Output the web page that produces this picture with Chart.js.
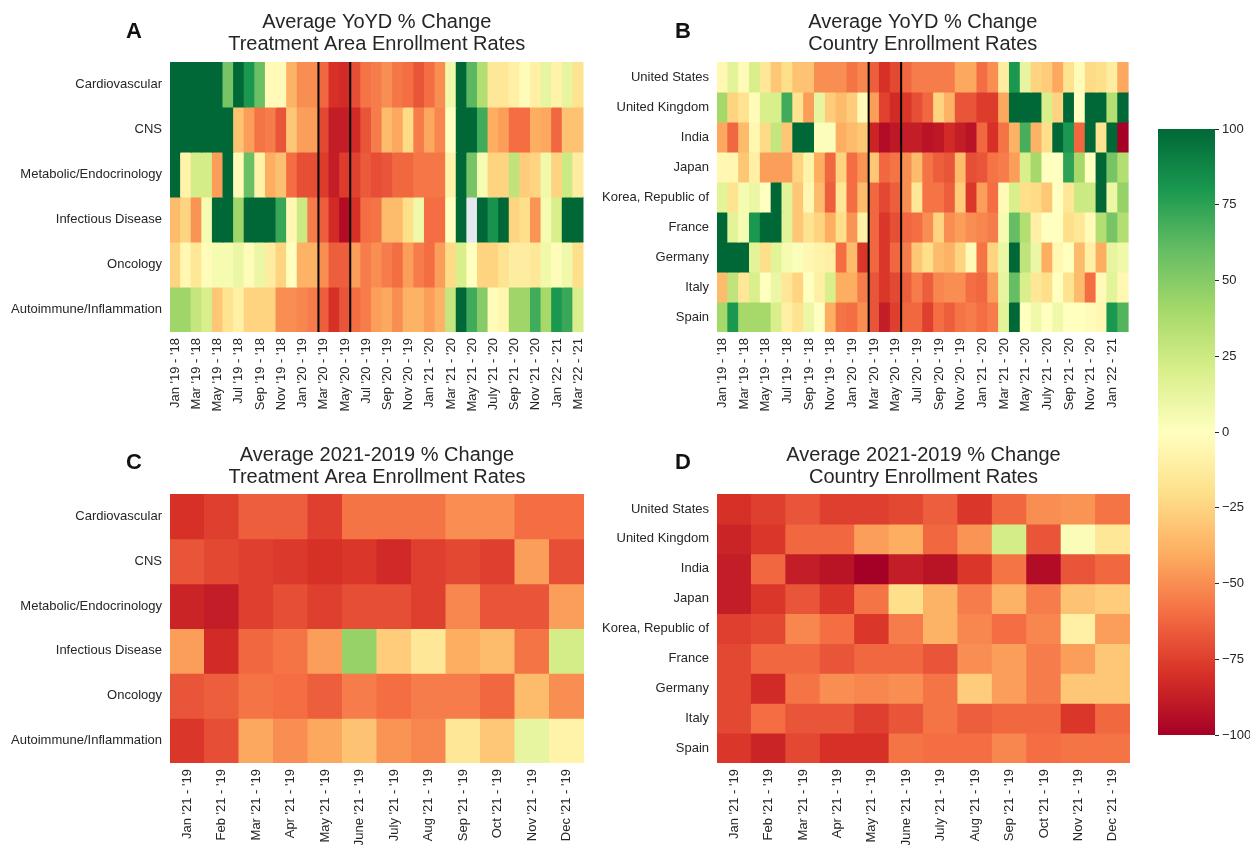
<!DOCTYPE html>
<html>
<head>
<meta charset="utf-8">
<script src="https://cdn.jsdelivr.net/npm/chart.js@4/dist/chart.umd.min.js"></script>
<style>
  html, body { margin: 0; padding: 0; background: #ffffff; }
  #wrap { position: relative; width: 1250px; height: 845px; overflow: hidden; background: #fff; }
  canvas { position: absolute; }
  .letter { position: absolute; font-family: "Liberation Sans", Arial, sans-serif; font-weight: bold; font-size: 22px; line-height: 22px; color: #111; }
</style>
</head>
<body>
<div id="wrap">
  <canvas id="cA" width="600" height="430" style="left:0px;top:0px"></canvas>
  <canvas id="cB" width="545" height="430" style="left:600px;top:0px"></canvas>
  <canvas id="cC" width="600" height="415" style="left:0px;top:430px"></canvas>
  <canvas id="cD" width="545" height="415" style="left:600px;top:430px"></canvas>
  <canvas id="cBar" width="105" height="660" style="left:1145px;top:100px"></canvas>
  <div class="letter" style="left:126px;top:20px">A</div>
  <div class="letter" style="left:675px;top:20px">B</div>
  <div class="letter" style="left:126px;top:451px">C</div>
  <div class="letter" style="left:675px;top:451px">D</div>
</div>
<script>
// ---------------- DATA ----------------
const treatmentAreas = ["Cardiovascular", "CNS", "Metabolic/Endocrinology", "Infectious Disease", "Oncology", "Autoimmune/Inflammation"];
const countries = ["United States", "United Kingdom", "India", "Japan", "Korea, Republic of", "France", "Germany", "Italy", "Spain"];

const monthsYoY = [
  "Jan '19 - '18","Feb '19 - '18","Mar '19 - '18","Apr '19 - '18","May '19 - '18","Jun '19 - '18","Jul '19 - '18","Aug '19 - '18","Sep '19 - '18","Oct '19 - '18","Nov '19 - '18","Dec '19 - '18",
  "Jan '20 - '19","Feb '20 - '19","Mar '20 - '19","Apr '20 - '19","May '20 - '19","Jun '20 - '19","Jul '20 - '19","Aug '20 - '19","Sep '20 - '19","Oct '20 - '19","Nov '20 - '19","Dec '20 - '19",
  "Jan '21 - '20","Feb '21 - '20","Mar '21 - '20","Apr '21 - '20","May '21 - '20","Jun '21 - '20","July '21 - '20","Aug '21 - '20","Sep '21 - '20","Oct '21 - '20","Nov '21 - '20","Dec '21 - '20",
  "Jan '22 - '21","Feb '22 - '21","Mar '22 - '21"
];
const monthsYoYCountry = monthsYoY.slice(0, 38);
const months2021vs2019 = ["Jan '21 - '19","Feb '21 - '19","Mar '21 - '19","Apr '21 - '19","May '21 - '19","June '21 - '19","July '21 - '19","Aug '21 - '19","Sep '21 - '19","Oct '21 - '19","Nov '21 - '19","Dec '21 - '19"];

// Panel A: YoYD % change by treatment area (null = no data)
const cardiovascularYoY = [100,100,100,100,100,55,100,80,58,-3,-3,-38,-50,-50,-62,-80,-82,-70,-58,-55,-50,-57,-60,-68,-60,-50,8,100,63,35,-15,-15,-10,-2,-10,12,-8,12,-18];
const cnsYoY            = [100,100,100,100,100,100,-32,-45,-58,-55,-68,-30,-45,-45,-72,-88,-88,-82,-68,-55,-35,-42,-22,-55,-42,-52,0,100,100,70,-40,-45,-60,-60,-40,-42,-62,-32,-32];
const metabolicYoY      = [100,-8,22,22,-45,100,-3,58,-8,-40,-33,-60,-70,-70,-76,-88,-76,-74,-66,-70,-68,-62,-62,-57,-57,-57,-8,100,55,5,-25,-25,30,-28,-25,8,-25,25,-12];
const infectiousYoY     = [-35,-25,-48,5,100,100,42,100,100,100,72,-5,25,-55,-65,-82,-95,-80,-60,-58,-35,-35,-20,8,-60,-60,0,100,null,100,82,100,-25,-20,-48,5,20,100,100];
const oncologyYoY       = [-25,-5,-15,-2,5,5,10,-2,10,-12,-25,0,-38,-38,-50,-65,-65,-45,-55,-50,-55,-60,-45,-55,-60,-45,-22,20,0,-25,-25,-18,-12,-12,-15,8,-2,8,-20];
const autoimmuneYoY     = [42,42,28,20,-30,-18,-10,-25,-25,-25,-50,-50,-52,-55,-65,-80,-68,-60,-55,-45,-42,-50,-38,-38,-45,-38,28,100,70,50,-2,-6,42,42,70,40,80,72,20];

// Panel B: YoYD % change by country
const usYoY      = [-5,15,-3,20,-15,-30,-20,-32,-32,-50,-50,-50,-58,-52,-65,-80,-72,-62,-55,-55,-55,-55,-42,-42,-60,-50,-12,80,12,-25,-28,-42,-18,-2,-22,-20,-12,-42];
const ukYoY      = [40,-25,-18,-2,20,20,70,-18,-45,12,-28,-35,-28,-3,-45,-74,-82,-78,-70,-62,-25,-38,-68,-68,-76,-76,-42,100,100,100,20,-25,100,0,100,100,35,100];
const indiaYoY   = [-42,-62,-35,-6,-22,28,-30,100,100,2,2,-40,-35,-30,-85,-95,-90,-88,-88,-92,-90,-82,-88,-92,-62,-80,-58,-38,68,-38,-20,100,80,-62,100,-18,100,-100];
const japanYoY   = [-5,-5,-30,-10,-45,-45,-45,-25,-8,-40,-62,-25,-60,-48,-30,-62,-58,-50,-35,-58,-65,-68,-35,-70,-68,-58,-55,-45,20,40,0,0,75,40,0,100,55,35];
const koreaYoY   = [15,-18,5,10,0,100,15,-30,-5,-35,-65,-15,-60,-35,-62,-72,-65,-50,-15,-58,-58,-65,-28,-78,-45,-60,-3,20,-20,-22,-30,0,-15,25,25,100,10,45];
const franceYoY  = [100,15,5,80,100,100,15,-30,-18,-25,-40,-20,-48,-10,-62,-78,-70,-62,-60,-50,-25,-50,-45,-50,-52,-55,5,60,35,-10,0,0,-20,-15,-3,35,55,35];
const germanyYoY = [100,100,100,15,-20,15,5,2,-5,-8,-10,-60,-35,-78,-62,-78,-62,-55,-30,-20,-35,-38,-25,-3,-58,-25,10,100,30,10,-40,-5,0,-35,-10,-40,12,8];
const italyYoY   = [-35,30,-15,20,0,10,-15,-25,0,-10,20,-40,-40,-55,-68,-78,-72,-65,-55,-65,-52,-50,-50,-60,-62,-45,12,60,20,-15,-20,0,-18,-35,-60,-3,15,-5];
const spainYoY   = [40,80,40,40,40,20,-10,-18,10,0,-40,-58,-60,-50,-68,-88,-75,-62,-62,-75,-60,-65,-58,-55,-60,-55,15,100,0,8,0,8,0,0,-2,-5,80,65];

// Panel C: 2021 vs 2019 % change by treatment area
const cardiovascular2119 = [-80,-75,-65,-65,-75,-58,-58,-58,-50,-50,-60,-60];
const cns2119            = [-68,-72,-75,-77,-80,-78,-83,-75,-72,-75,-45,-70];
const metabolic2119      = [-85,-88,-75,-70,-75,-70,-70,-75,-52,-68,-68,-45];
const infectious2119     = [-45,-82,-62,-58,-45,45,-28,-15,-40,-35,-58,22];
const oncology2119       = [-68,-65,-58,-60,-65,-55,-60,-55,-55,-62,-35,-50];
const autoimmune2119     = [-78,-70,-42,-50,-42,-32,-48,-52,-15,-30,12,-8];

// Panel D: 2021 vs 2019 % change by country
const us2119      = [-80,-75,-68,-75,-75,-72,-65,-78,-62,-50,-48,-58];
const uk2119      = [-85,-78,-62,-62,-45,-40,-62,-48,22,-68,3,-15];
const india2119   = [-88,-62,-88,-92,-100,-88,-92,-78,-58,-95,-68,-62];
const japan2119   = [-88,-78,-68,-78,-58,-20,-38,-55,-38,-55,-32,-28];
const korea2119   = [-75,-72,-52,-60,-78,-55,-38,-52,-60,-52,-10,-45];
const france2119  = [-72,-62,-62,-68,-62,-62,-68,-50,-45,-55,-45,-30];
const germany2119 = [-72,-82,-58,-50,-52,-50,-58,-28,-45,-55,-30,-30];
const italy2119   = [-72,-60,-68,-68,-75,-68,-58,-65,-62,-62,-78,-62];
const spain2119   = [-78,-85,-72,-80,-80,-58,-60,-60,-52,-60,-58,-58];

// column index where the marked March-May 2020 window starts and ends
const lockdownBounds = [14, 17];
const colorbarTicks = [-100, -75, -50, -25, 0, 25, 50, 75, 100];

// ---------------- RENDERING ----------------
const FONT = '"Liberation Sans", Arial, Helvetica, sans-serif';
const TXT = '#262626';
const RDYLGN = ['#a50026','#d73027','#f46d43','#fdae61','#fee08b','#ffffbf','#d9ef8b','#a6d96a','#66bd63','#1a9850','#006837'];
const NAN_COLOR = '#e6e8ef';

function hexToRgb(h) { return [parseInt(h.slice(1,3),16), parseInt(h.slice(3,5),16), parseInt(h.slice(5,7),16)]; }
const RGB = RDYLGN.map(hexToRgb);
function colorFor(v) {
  if (v === null || v === undefined) return NAN_COLOR;
  const t = (Math.max(-100, Math.min(100, v)) + 100) / 200 * 10;
  const i = Math.min(9, Math.floor(t));
  const f = t - i;
  const a = RGB[i], b = RGB[i + 1];
  const c = a.map((x, k) => Math.round(x + (b[k] - x) * f));
  return 'rgb(' + c.join(',') + ')';
}

const lockdownPlugin = {
  id: 'lockdown',
  afterDatasetsDraw(chart, args, opts) {
    if (!opts || !opts.bounds) return;
    const xs = chart.scales.x;
    const area = chart.chartArea;
    const ctx = chart.ctx;
    ctx.save();
    ctx.strokeStyle = '#000';
    ctx.lineWidth = 2;
    opts.bounds.forEach(b => {
      const px = (xs.getPixelForValue(b - 1) + xs.getPixelForValue(b)) / 2;
      ctx.beginPath();
      ctx.moveTo(px, area.top);
      ctx.lineTo(px, area.bottom);
      ctx.stroke();
    });
    ctx.restore();
  }
};

function heatmap(id, rows, cols, values, o) {
  const datasets = rows.map((r, i) => ({
    label: r,
    data: cols.map(() => 1),
    backgroundColor: values[i].map(colorFor),
    borderWidth: 0,
    barPercentage: 1,
    categoryPercentage: 1,
    inflateAmount: 0.5
  }));
  return new Chart(document.getElementById(id), {
    type: 'bar',
    data: { labels: cols, datasets },
    options: {
      responsive: false,
      animation: false,
      events: [],
      layout: { padding: { left: 0, right: o.padRight, top: 0, bottom: 0 } },
      plugins: {
        legend: { display: false },
        tooltip: { enabled: false },
        lockdown: { bounds: o.bounds || null },
        title: {
          display: true,
          text: o.title,
          fullSize: false,
          color: TXT,
          font: { family: FONT, size: 20, weight: 'normal', lineHeight: 1.1 },
          padding: { top: o.titleTop, bottom: o.titleBottom }
        }
      },
      scales: {
        x: {
          stacked: true,
          grid: { display: false, drawTicks: false },
          border: { display: false },
          ticks: {
            autoSkip: false, minRotation: 90, maxRotation: 90, padding: 6,
            color: TXT, font: { family: FONT, size: 13 },
            callback: (v, i) => (i % o.every === 0 ? cols[i] : '')
          },
          afterFit: a => { a.height = o.xh; }
        },
        y: {
          stacked: true, min: 0, max: rows.length, reverse: true,
          grid: { display: false, drawTicks: false },
          border: { display: false },
          afterBuildTicks: a => { a.ticks = rows.map((_, i) => ({ value: i + 0.5 })); },
          ticks: {
            autoSkip: false, padding: 8, color: TXT, font: { family: FONT, size: 13 },
            callback: (v, i) => rows[i]
          },
          afterFit: a => { a.width = o.yw; }
        }
      }
    },
    plugins: [lockdownPlugin]
  });
}

heatmap('cA', treatmentAreas, monthsYoY,
  [cardiovascularYoY, cnsYoY, metabolicYoY, infectiousYoY, oncologyYoY, autoimmuneYoY],
  { title: ['Average YoYD % Change', 'Treatment Area Enrollment Rates'], titleTop: 11, titleBottom: 7,
    padRight: 15, yw: 170, xh: 98, every: 2, bounds: lockdownBounds });

heatmap('cB', countries, monthsYoYCountry,
  [usYoY, ukYoY, indiaYoY, japanYoY, koreaYoY, franceYoY, germanyYoY, italyYoY, spainYoY],
  { title: ['Average YoYD % Change', 'Country Enrollment Rates'], titleTop: 11, titleBottom: 7,
    padRight: 14, yw: 117, xh: 98, every: 2, bounds: lockdownBounds });

heatmap('cC', treatmentAreas, months2021vs2019,
  [cardiovascular2119, cns2119, metabolic2119, infectious2119, oncology2119, autoimmune2119],
  { title: ['Average 2021-2019 % Change', 'Treatment Area Enrollment Rates'], titleTop: 14, titleBottom: 6,
    padRight: 16, yw: 170, xh: 82, every: 1 });

heatmap('cD', countries, months2021vs2019,
  [us2119, uk2119, india2119, japan2119, korea2119, france2119, germany2119, italy2119, spain2119],
  { title: ['Average 2021-2019 % Change', 'Country Enrollment Rates'], titleTop: 14, titleBottom: 6,
    padRight: 15, yw: 117, xh: 82, every: 1 });

// Colour bar
new Chart(document.getElementById('cBar'), {
  type: 'bar',
  data: {
    labels: [''],
    datasets: [{
      data: [[colorbarTicks[0], colorbarTicks[colorbarTicks.length - 1]]],
      backgroundColor: c => {
        const ch = c.chart, a = ch.chartArea;
        if (!a) return '#ffffbf';
        const g = ch.ctx.createLinearGradient(0, a.bottom, 0, a.top);
        RDYLGN.forEach((col, i) => g.addColorStop(i / (RDYLGN.length - 1), col));
        return g;
      },
      borderWidth: 0, barPercentage: 1, categoryPercentage: 1, inflateAmount: 0
    }]
  },
  options: {
    responsive: false, animation: false, events: [],
    layout: { padding: { left: 13, top: 29, bottom: 25, right: 0 } },
    plugins: { legend: { display: false }, tooltip: { enabled: false } },
    scales: {
      x: { display: false },
      y: {
        position: 'right', min: -100, max: 100,
        grid: { drawOnChartArea: false, drawTicks: true, tickLength: 4, tickColor: TXT, tickWidth: 1 },
        border: { display: false },
        afterBuildTicks: a => { a.ticks = colorbarTicks.map(v => ({ value: v })); },
        ticks: {
          padding: 3, color: TXT, font: { family: FONT, size: 13 },
          callback: v => (v < 0 ? '\u2212' + Math.abs(v) : String(v))
        },
        afterFit: a => { a.width = 35; }
      }
    }
  }
});
</script>
</body>
</html>
